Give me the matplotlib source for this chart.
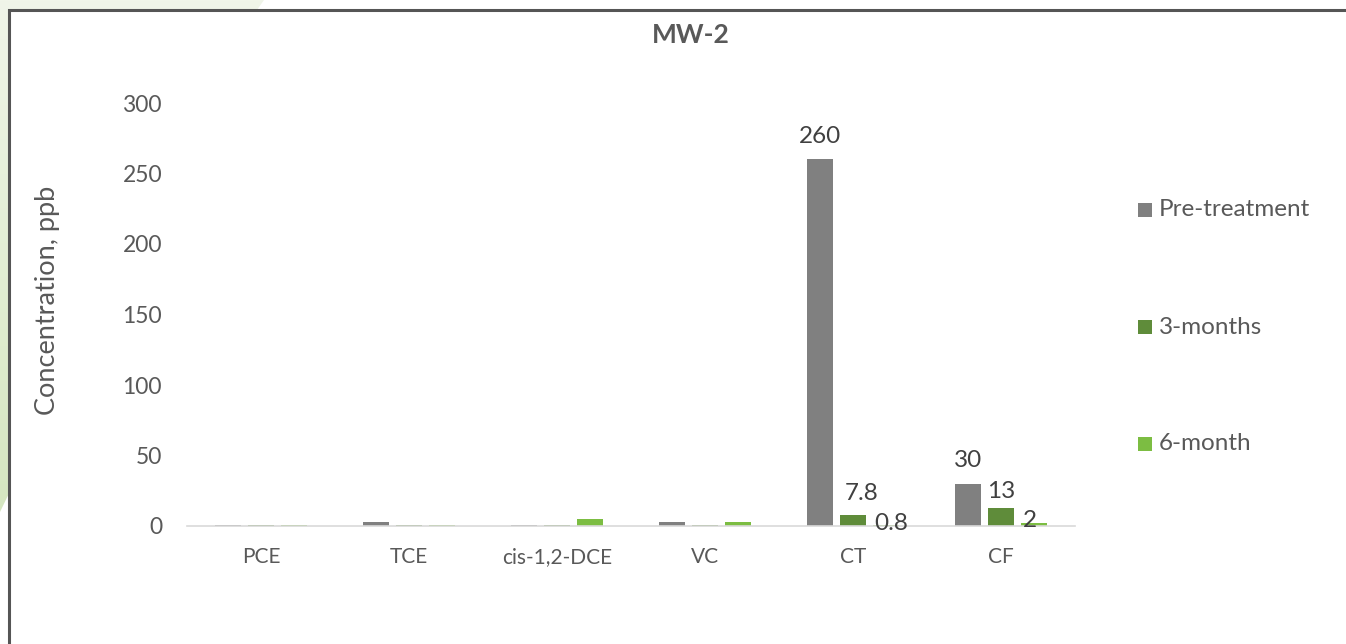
import numpy as np
import matplotlib
matplotlib.use("Agg")
import matplotlib.pyplot as plt
from matplotlib.patches import Polygon, Rectangle
from matplotlib.colors import LinearSegmentedColormap

# Sample data (ppb)
compounds = ["PCE", "TCE", "cis-1,2-DCE", "VC", "CT", "CF"]
pre_treatment = [0.5, 3, 0.5, 3, 260, 30]
three_months = [0.5, 0.5, 0.5, 0.5, 7.8, 13]
six_month = [0.5, 0.5, 5, 3, 0.8, 2]
series_names = ["Pre-treatment", "3-months", "6-month"]
series_colors = ["#808080", "#5F8C3A", "#7CBD42"]
yticks = [0, 50, 100, 150, 200, 250, 300]

# Labelled bars: (series index, compound index, text, offset in points)
labels = [
    (0, 4, "260", (0, 16.8)),
    (1, 4, "7.8", (6.5, 15.8)),
    (2, 4, "0.8", (4, 0.7)),
    (0, 5, "30", (0, 16.6)),
    (1, 5, "13", (0, 11.3)),
    (2, 5, "2", (-3, 2.2)),
]

plt.rcParams["font.family"] = ["Lato", "DejaVu Sans"]
TEXT = "#595959"

W, H = 1346, 644
fig = plt.figure(figsize=(W / 100, H / 100), dpi=100)
fig.patch.set_facecolor("white")

# pale green corner decoration behind the chart frame
grad = np.linspace(0, 1, 256).reshape(-1, 1) * np.ones((1, 256))
cmap = LinearSegmentedColormap.from_list("g", ["#F0F5E9", "#D5E6C0"])
bg = fig.add_axes([0, 0, 1, 1], zorder=-5)
bg.set_xlim(0, W)
bg.set_ylim(H, 0)
bg.axis("off")
im = bg.imshow(grad, extent=(0, 300, 520, 0), cmap=cmap, aspect="auto", zorder=0)
poly = Polygon([(0, 0), (264, 0), (250, 20), (30, 450), (0, 512)], closed=True,
               transform=bg.transData, facecolor="none", edgecolor="none")
bg.add_patch(poly)
im.set_clip_path(poly)
# white chart area with dark frame
bg.add_patch(Rectangle((9, 10), W + 20, H + 20, facecolor="white",
                       edgecolor="#555555", linewidth=2.2, zorder=1))

ax = fig.add_axes([187 / W, 1 - 526 / H, 888 / W, 423 / H])
ax.set_facecolor("none")
x = np.arange(len(compounds))
step = 0.223
width = 0.18
data = [pre_treatment, three_months, six_month]
bars = []
for i, (vals, name, col) in enumerate(zip(data, series_names, series_colors)):
    b = ax.bar(x + (i - 1) * step, vals, width, color=col, label=name, zorder=2)
    bars.append(b)

for si, ci, txt, off in labels:
    rect = bars[si][ci]
    ax.annotate(txt, (rect.get_x() + rect.get_width() / 2, rect.get_height()),
                xytext=off, textcoords="offset points", ha="center", va="center",
                fontsize=17.5, color="#404040", zorder=3)

ax.set_xlim(-0.5, len(compounds) - 0.5)
ax.set_ylim(0, 300)
ax.set_yticks(yticks)
ax.set_xticks(x)
ax.set_xticklabels(compounds)
ax.tick_params(axis="y", length=0, pad=18, labelsize=16.5, labelcolor=TEXT)
ax.tick_params(axis="x", length=0, pad=15, labelsize=15, labelcolor=TEXT)
for s in ["top", "right", "left"]:
    ax.spines[s].set_visible(False)
ax.spines["bottom"].set_color("#D9D9D9")
ax.spines["bottom"].set_linewidth(1.2)

fig.text(48 / W, 1 - 300 / H, "Concentration, ppb", rotation=90, ha="center",
         va="center", fontsize=19.5, color=TEXT)
fig.text(691 / W, 1 - 35 / H, "MW-2", ha="center", va="center", fontsize=19,
         fontweight="bold", color=TEXT)

# legend entries stacked down the right side
for name, col, ypix in zip(series_names, series_colors, [210, 327, 444]):
    fig.patches.append(Rectangle((1138 / W, 1 - (ypix + 7) / H), 14 / W, 14 / H,
                                 transform=fig.transFigure, facecolor=col,
                                 edgecolor="none"))
    fig.text(1159 / W, 1 - ypix / H, name, ha="left", va="center", fontsize=17.5,
             color=TEXT)

fig.savefig("out.png", dpi=100)
